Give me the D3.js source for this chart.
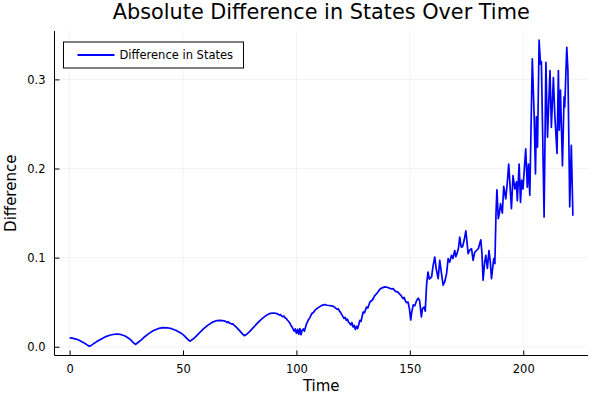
<!DOCTYPE html>
<html>
<head>
<meta charset="utf-8">
<script src="https://cdn.jsdelivr.net/npm/d3@7"></script>
<style>
  html, body { margin: 0; padding: 0; background: #ffffff; }
  svg { display: block; }
  text { font-family: "DejaVu Sans", sans-serif; }
</style>
</head>
<body>
<div id="chart"></div>
<script>
// ---- data ----
const times = [
  0, 1, 2, 3, 4, 5, 6, 7, 8, 8.7, 9.5, 10.5, 12, 14, 16, 18, 20.5, 22.5, 24.5, 26.5, 28, 29,
  30, 31.5, 33, 35, 37, 39, 41, 43, 45, 47, 49, 50.5, 52, 53, 54, 55.5, 57, 59, 61, 63, 65,
  66.5, 68, 69, 69.5, 70, 70.5, 71, 71.5, 72, 72.5, 73, 73.5, 74, 75, 76, 77, 78, 79, 81, 83,
  85, 87, 88.5, 90, 91.5, 92.5, 93, 93.5, 94, 94.5, 95, 95.5, 96, 96.5, 97, 97.5, 98, 98.5,
  99, 99.5, 100, 100.5, 101, 101.5, 102, 102.5, 103, 103.5, 104.5, 105.2, 106, 106.7, 107.5,
  108.2, 109, 110, 111, 112, 112.6, 113.5, 114.5, 115.5, 116.2, 117, 118, 118.5, 119, 119.5,
  120, 120.6, 121, 121.5, 122, 122.5, 123, 123.6, 124, 124.5, 125, 125.5, 126, 126.5, 127,
  127.5, 128, 128.5, 129.4, 130, 130.9, 131.5, 132.4, 133.5, 134.6, 135.5, 136.8, 137.5, 139,
  140, 141.2, 142, 142.6, 143.4, 144, 144.8, 145.5, 146, 146.5, 147, 147.5, 148, 148.5, 149.2,
  149.8, 150.4, 150.8, 151.5, 152.2, 153, 153.7, 154.3, 155.1, 155.6, 156.3, 156.8, 157.4,
  158, 158.6, 159.6, 160.2, 161, 161.6, 162.5, 163.2, 163.8, 164.7, 165.5, 166.2, 166.9,
  167.6, 168.4, 169, 169.8, 170.3, 170.8, 171.4, 172, 172.6, 173.2, 174, 174.7, 175.2, 175.7,
  176.3, 177.2, 177.9, 178.6, 179.4, 180.2, 181.3, 181.8, 182.3, 183, 183.5, 184.2, 184.9,
  185.5, 186, 186.6, 187, 187.5, 188, 188.4, 189, 189.5, 190, 190.8, 191.4, 192.3, 193,
  193.6, 194.2, 194.8, 195.5, 196.3, 197, 197.4, 198.2, 198.8, 199.3, 199.9, 200.5, 201.1,
  201.8, 202.3, 202.9, 204, 204.8, 205.4, 205.8, 206.3, 207, 207.6, 208, 209.2, 210, 210.7,
  211.8, 212.4, 213.3, 213.9, 214.9, 215.5, 215.9, 216.4, 217.3, 218, 218.3, 219.2, 219.7,
  220.5, 221.2, 221.9
];
const differences = [
  0.0099, 0.0097, 0.0092, 0.0085, 0.0075, 0.0063, 0.0049, 0.0033, 0.0016, 0.0005, 0.0015, 0.0033,
  0.0058, 0.0088, 0.0114, 0.0132, 0.0143, 0.0138, 0.0120, 0.0088, 0.0050, 0.0026,
  0.0045, 0.0075, 0.0110, 0.0150, 0.0182, 0.0203, 0.0214, 0.0213, 0.0203, 0.0183, 0.0155,
  0.0125, 0.0085, 0.0062, 0.0078, 0.0112, 0.0150, 0.0200, 0.0243, 0.0276, 0.0294,
  0.0297, 0.0291, 0.0283, 0.0272, 0.0280, 0.0266, 0.0262, 0.0254, 0.0258, 0.0240, 0.0232,
  0.0220, 0.0206, 0.0178, 0.0150, 0.0125, 0.0138, 0.0162, 0.0215, 0.0270,
  0.0318, 0.0357, 0.0375, 0.0379, 0.0371, 0.0356, 0.0362, 0.0345, 0.0338, 0.0345, 0.0326,
  0.0318, 0.0300, 0.0286, 0.0270, 0.0245, 0.0225, 0.0200,
  0.0175, 0.0200, 0.0152, 0.0195, 0.0140, 0.0205, 0.0135, 0.0185, 0.0200, 0.0175, 0.0260,
  0.0297, 0.0330, 0.0370, 0.0385,
  0.0410, 0.0428, 0.0445, 0.0462, 0.0470, 0.0474, 0.0466, 0.0463, 0.0459, 0.0454, 0.0440,
  0.0420, 0.0425, 0.0400, 0.0385,
  0.0360, 0.0334, 0.0318, 0.0330, 0.0297, 0.0310, 0.0275, 0.0260, 0.0245, 0.0270, 0.0222,
  0.0240, 0.0194, 0.0230, 0.0205,
  0.0250, 0.0297, 0.0285, 0.0390, 0.0380, 0.0446, 0.0435, 0.0502, 0.0525, 0.0577, 0.0600,
  0.0645, 0.0658, 0.0672,
  0.0668, 0.0655, 0.0650, 0.0652, 0.0628, 0.0618, 0.0614, 0.0590, 0.0580, 0.0560, 0.0540,
  0.0555, 0.0515, 0.0495, 0.0502,
  0.0430, 0.0300, 0.0380, 0.0470, 0.0460, 0.0520, 0.0545, 0.0520, 0.0334, 0.0430, 0.0446,
  0.0400, 0.0700,
  0.0839, 0.0760, 0.0783, 0.0900, 0.1007, 0.0880, 0.0765, 0.0970, 0.0850, 0.0690, 0.0740,
  0.0820, 0.0989,
  0.0950, 0.1026, 0.0990, 0.1080, 0.1010, 0.1045, 0.1100, 0.1230, 0.1120, 0.1120, 0.1200,
  0.1300, 0.1180, 0.1045,
  0.1080, 0.1100, 0.0970, 0.1060, 0.1080, 0.1100, 0.1200, 0.1050, 0.0746, 0.0950, 0.1026,
  0.0880, 0.1080,
  0.0950, 0.0765, 0.0900, 0.0989, 0.0933, 0.1500, 0.1760, 0.1437, 0.1500, 0.1605, 0.1500,
  0.1800, 0.1660, 0.1850,
  0.2050, 0.1800, 0.1550, 0.1920, 0.1770, 0.1850, 0.1640, 0.2050, 0.1620, 0.1870, 0.1770,
  0.2000, 0.2220,
  0.1790, 0.2050, 0.1700, 0.3230, 0.2610, 0.1940, 0.2580, 0.2240, 0.3440, 0.3170, 0.3200,
  0.1455, 0.3190, 0.2350,
  0.3100, 0.2460, 0.3020, 0.2610, 0.2170, 0.3100, 0.2430, 0.2880, 0.2030, 0.2800, 0.2690,
  0.3360, 0.3100,
  0.1570, 0.2260, 0.1470
];
const xTicks = [0, 50, 100, 150, 200];
const yTicks = [0.0, 0.1, 0.2, 0.3];
const seriesName = "Difference in States";
const titleText = "Absolute Difference in States Over Time";
const xLabel = "Time";
const yLabel = "Difference";

// ---- layout ----
const W = 600, H = 400;
const plot = { left: 54.5, right: 588, top: 31, bottom: 355.5 };
const FONT = "'DejaVu Sans', sans-serif";

const svg = d3.select("#chart").append("svg")
  .attr("width", W).attr("height", H);

const data = times.map((t, i) => ({ t: t, v: differences[i] }));

const xExt = d3.extent(times);
const xPad = (xExt[1] - xExt[0]) * 0.03;
const yExt = d3.extent(differences);
const yPad = (yExt[1] - yExt[0]) * 0.03;

const x = d3.scaleLinear().domain([xExt[0] - xPad, xExt[1] + xPad]).range([plot.left, plot.right]);
const y = d3.scaleLinear().domain([yExt[0] - yPad, yExt[1] + yPad]).range([plot.bottom, plot.top]);

// grid
const grid = svg.append("g");
grid.selectAll(".gx").data(xTicks).enter().append("line")
  .attr("x1", d => x(d)).attr("x2", d => x(d))
  .attr("y1", plot.top).attr("y2", plot.bottom)
  .attr("stroke", "#000").attr("stroke-opacity", 0.1).attr("stroke-width", 0.5);
grid.selectAll(".gy").data(yTicks).enter().append("line")
  .attr("x1", plot.left).attr("x2", plot.right)
  .attr("y1", d => y(d)).attr("y2", d => y(d))
  .attr("stroke", "#000").attr("stroke-opacity", 0.1).attr("stroke-width", 0.5);

// axes
const xAxis = d3.axisBottom(x).tickValues(xTicks).tickFormat(d3.format("d")).tickSizeInner(-5).tickSizeOuter(0).tickPadding(9);
const yAxis = d3.axisLeft(y).tickValues(yTicks).tickFormat(d3.format(".1f")).tickSizeInner(-5).tickSizeOuter(0).tickPadding(9);

const gx = svg.append("g").attr("transform", `translate(0,${plot.bottom})`).call(xAxis);
gx.select(".domain").attr("d", `M${plot.left},0H${plot.right}`).attr("stroke", "#000").attr("stroke-width", 1);
gx.selectAll(".tick line").attr("stroke", "#000");
gx.selectAll("text").attr("font-size", 11.5).attr("fill", "#000").style("font-family", FONT);

const gy = svg.append("g").attr("transform", `translate(${plot.left},0)`).call(yAxis);
gy.select(".domain").attr("d", `M0,${plot.bottom}V${plot.top}`).attr("stroke", "#000").attr("stroke-width", 1);
gy.selectAll(".tick line").attr("stroke", "#000");
gy.selectAll("text").attr("font-size", 11.5).attr("fill", "#000").style("font-family", FONT);

// clip
svg.append("clipPath").attr("id", "clip").append("rect")
  .attr("x", plot.left).attr("y", plot.top)
  .attr("width", plot.right - plot.left).attr("height", plot.bottom - plot.top);

// line
const line = d3.line().x(d => x(d.t)).y(d => y(d.v));
svg.append("path").datum(data)
  .attr("clip-path", "url(#clip)")
  .attr("d", line)
  .attr("fill", "none").attr("stroke", "#0000ff").attr("stroke-width", 1.7)
  .attr("stroke-linejoin", "round");

// title and labels
svg.append("text").attr("x", (plot.left + plot.right) / 2).attr("y", 19)
  .attr("text-anchor", "middle").attr("font-size", 20.8).attr("fill", "#000").text(titleText);
svg.append("text").attr("x", (plot.left + plot.right) / 2).attr("y", 391)
  .attr("text-anchor", "middle").attr("font-size", 15).attr("fill", "#000").text(xLabel);
svg.append("text").attr("transform", `translate(16,${(plot.top + plot.bottom) / 2}) rotate(-90)`)
  .attr("text-anchor", "middle").attr("font-size", 15).attr("fill", "#000").text(yLabel);

// legend
const lg = svg.append("g").attr("transform", `translate(${plot.left + 9},${plot.top + 11})`);
lg.append("rect").attr("x", 0).attr("y", 0).attr("width", 180).attr("height", 26)
  .attr("fill", "#fff").attr("stroke", "#000").attr("stroke-width", 1);
lg.append("line").attr("x1", 14).attr("x2", 51).attr("y1", 13).attr("y2", 13)
  .attr("stroke", "#0000ff").attr("stroke-width", 2);
lg.append("text").attr("x", 56).attr("y", 17).attr("font-size", 11.5).attr("fill", "#000").text(seriesName);
</script>
</body>
</html>
